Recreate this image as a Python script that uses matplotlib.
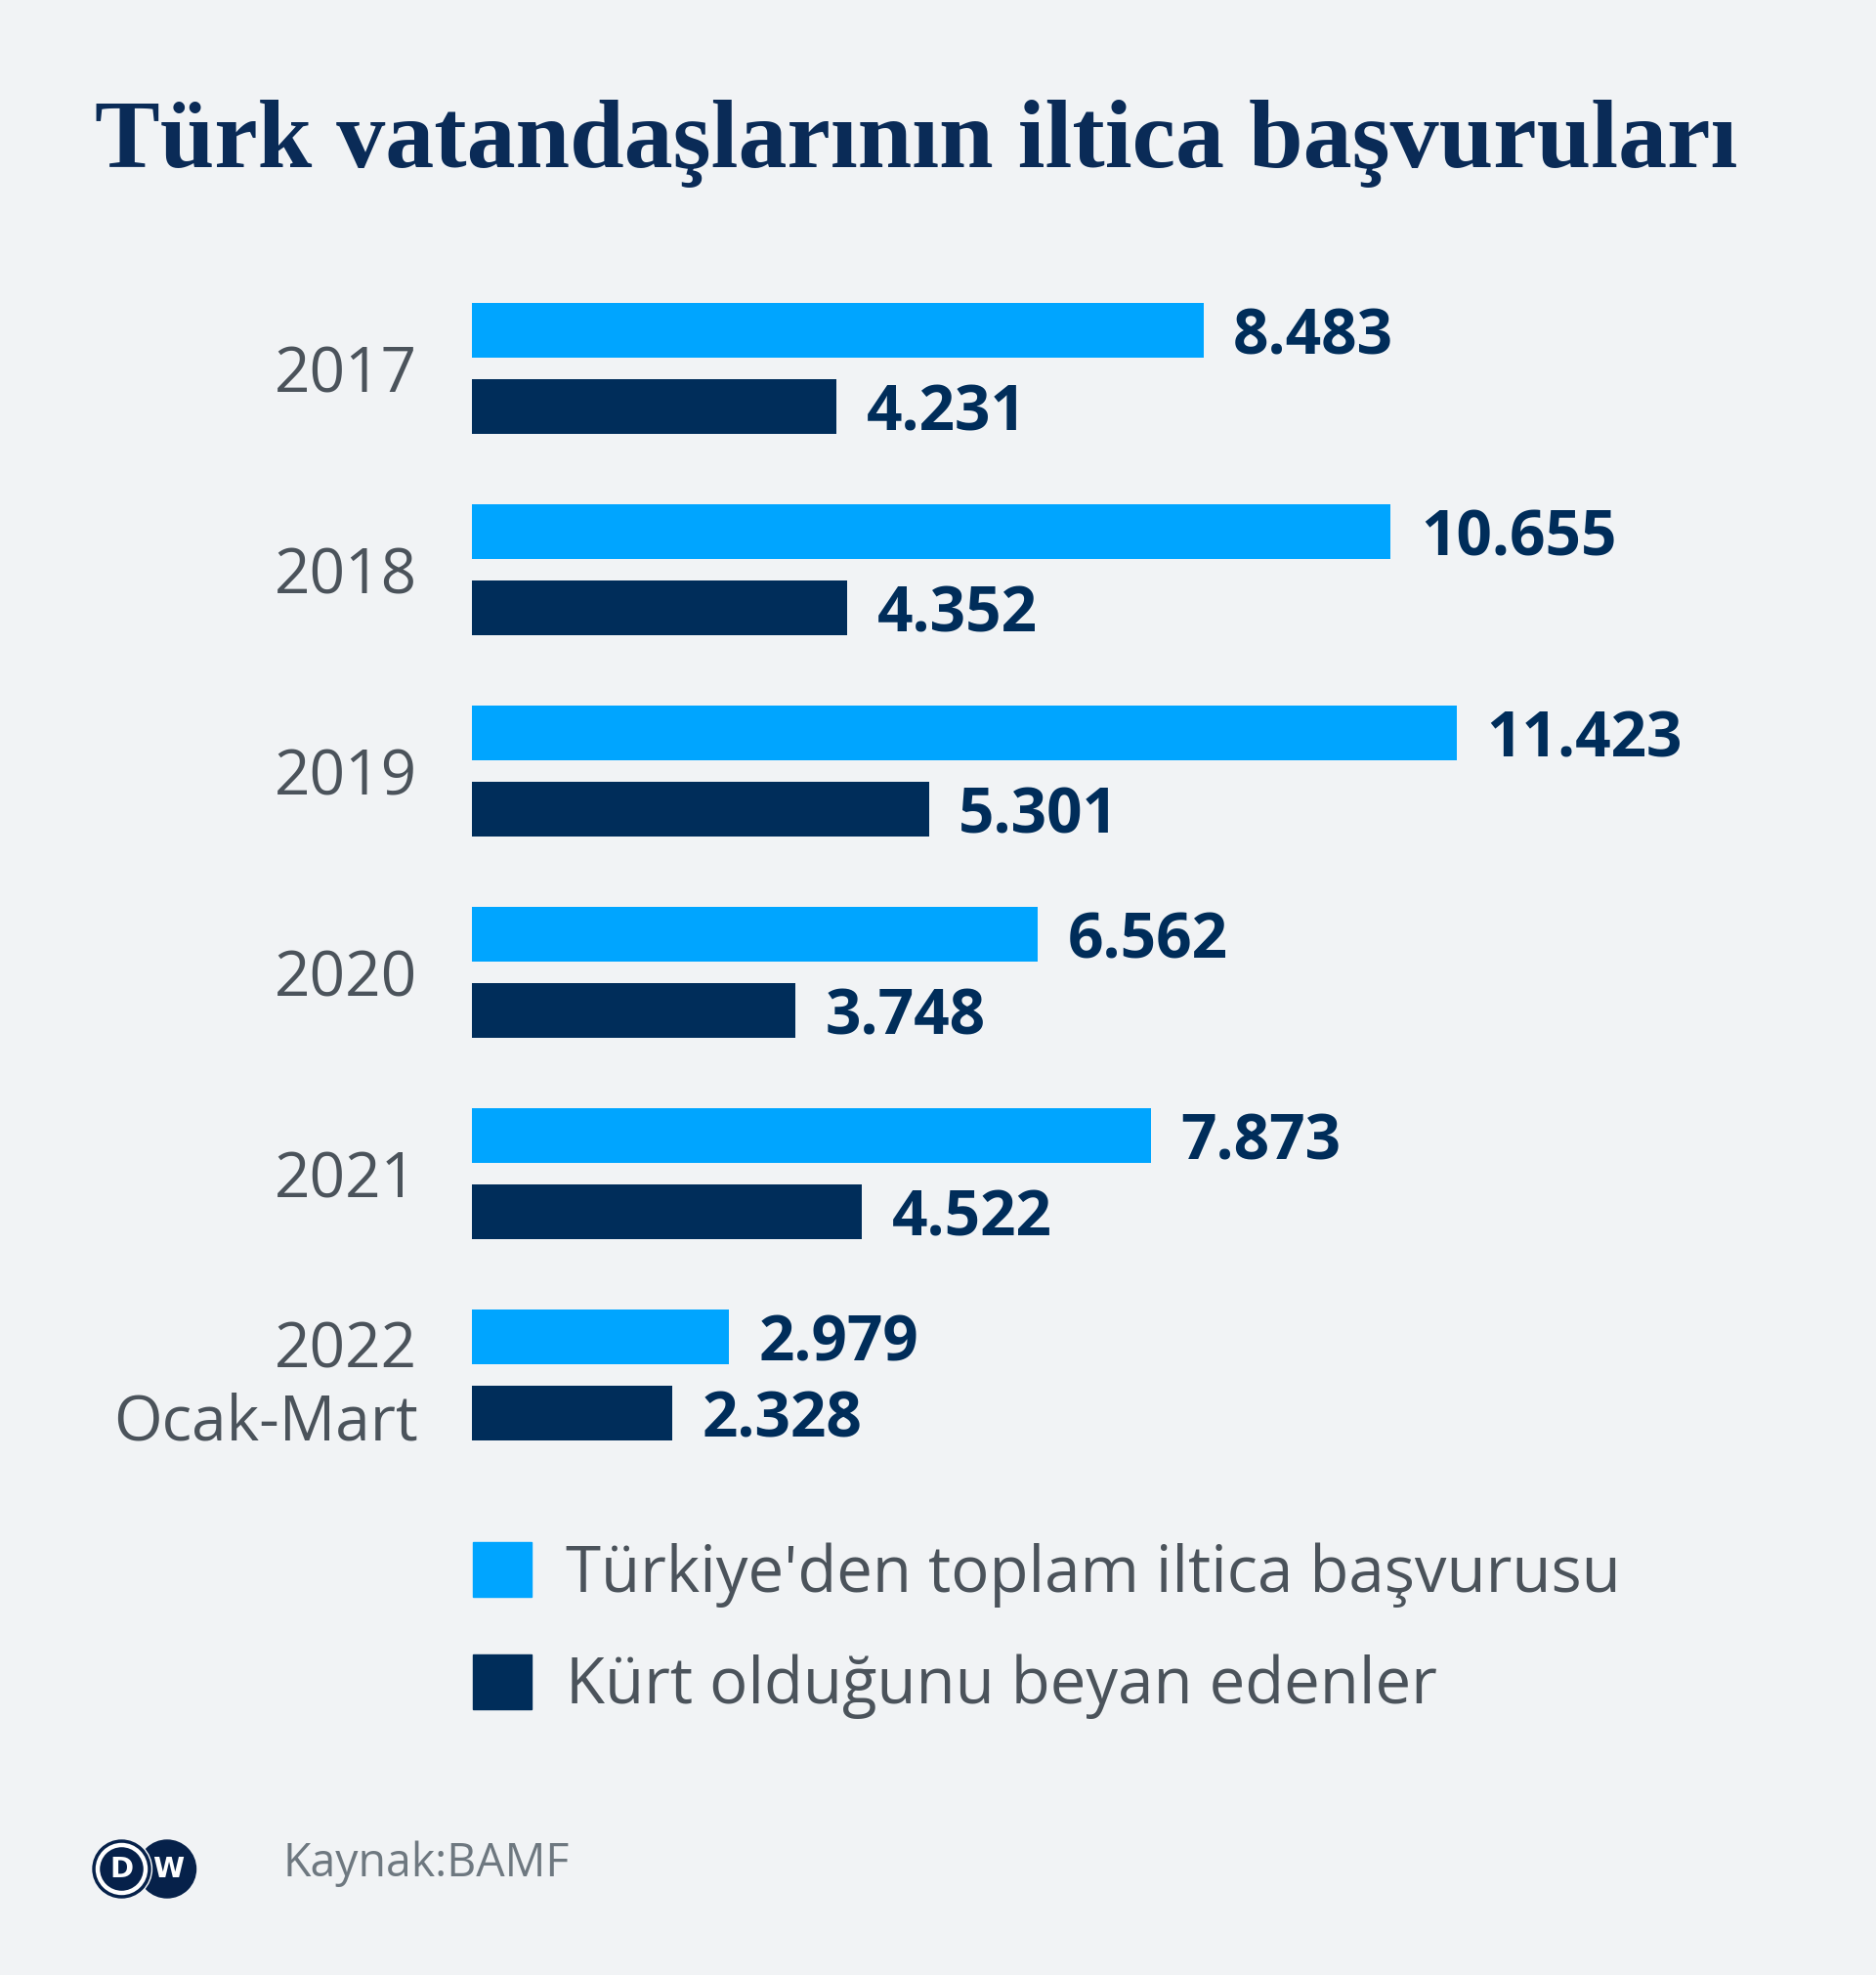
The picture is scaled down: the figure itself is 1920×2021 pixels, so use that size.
import numpy as np
import matplotlib
matplotlib.use("Agg")
import matplotlib.pyplot as plt
from matplotlib.patches import Circle, Patch

# ---------------- data ----------------
years = ["2017", "2018", "2019", "2020", "2021", "2022\nOcak-Mart"]
total = [8483, 10655, 11423, 6562, 7873, 2979]
kurdish = [4231, 4352, 5301, 3748, 4522, 2328]
total_labels = ["8.483", "10.655", "11.423", "6.562", "7.873", "2.979"]
kurdish_labels = ["4.231", "4.352", "5.301", "3.748", "4.522", "2.328"]
series_names = ["Türkiye'den toplam iltica başvurusu", "Kürt olduğunu beyan edenler"]
title = "Türk vatandaşlarının iltica başvuruları"
source = "Kaynak:BAMF"

# ---------------- style ----------------
W, H = 1920, 2021
BG = "#f1f3f5"
LIGHT = "#00a5ff"
NAVY = "#002d5a"
TITLE_C = "#0a2b57"
GRAY = "#4b535b"
SRC = "#6e7880"
FONT = "Open Sans"

fig = plt.figure(figsize=(W / 100, H / 100), dpi=100, facecolor=BG)


def fx(px):
    return px / W


def fy(py):
    return 1 - py / H


# main axes geometry (pixels)
px_per_unit = 1008 / 11423
xmax = 14000
ax_left = 483
ax_w = xmax * px_per_unit
ax_top, ax_bot = 274.3, 1510.3
ax = fig.add_axes([fx(ax_left), fy(ax_bot), ax_w / W, (ax_bot - ax_top) / H])
ax.set_facecolor("none")

pos = np.arange(len(years))
off = 0.189
bh = 0.272
ax.barh(pos - off, total, height=bh, color=LIGHT)
ax.barh(pos + off, kurdish, height=bh, color=NAVY)
for yy, v, lab in zip(pos - off, total, total_labels):
    ax.annotate(lab, xy=(v, yy), xytext=(22, 0), textcoords="offset points",
                fontsize=46, fontweight="bold", color=NAVY, family=FONT,
                ha="left", va="center_baseline")
for yy, v, lab in zip(pos + off, kurdish, kurdish_labels):
    ax.annotate(lab, xy=(v, yy), xytext=(22, 0), textcoords="offset points",
                fontsize=46, fontweight="bold", color=NAVY, family=FONT,
                ha="left", va="center_baseline")

ax.set_xlim(0, xmax)
ax.set_ylim(len(years) - 0.5, -0.5)
ax.set_yticks(pos)
ax.set_yticklabels(years, fontsize=46, color=GRAY, family=FONT)
ax.tick_params(axis="y", length=0, pad=40)
ax.set_xticks([])
for s in ax.spines.values():
    s.set_visible(False)

# title
fig.text(fx(97), fy(171), title, fontsize=72, fontweight="bold",
         family="Liberation Serif", color=TITLE_C, va="baseline", ha="left")

# legend
handles = [Patch(color=LIGHT), Patch(color=NAVY)]
fig.legend(handles, series_names, loc="upper left",
           bbox_to_anchor=(fx(484), fy(1578)), frameon=False,
           prop={"family": FONT, "size": 47}, labelcolor=GRAY,
           handlelength=0.92, handleheight=0.95, handletextpad=0.53,
           labelspacing=0.74, borderpad=0, borderaxespad=0)

# footer: logo + source
ov = fig.add_axes([0, 0, 1, 1])
ov.set_xlim(0, W)
ov.set_ylim(H, 0)
ov.axis("off")
ov.add_patch(Circle((171, 1912.5), 29.5, color="#06214a"))
ov.add_patch(Circle((124.5, 1912.5), 31, color=BG))
ov.add_patch(Circle((124.5, 1912.5), 29.5, color="#06214a"))
ov.add_patch(Circle((124.5, 1912.5), 24.5, fill=False, ec="white", lw=3.2))
ov.text(124, 1913, "D", color="white", fontsize=21, fontweight="heavy",
        family="DejaVu Sans", ha="center", va="center")
ov.text(172.5, 1913, "W", color="white", fontsize=21, fontweight="heavy",
        family="DejaVu Sans", ha="center", va="center")
fig.text(fx(290), fy(1907), source, fontsize=33.5, color=SRC, va="center",
         ha="left", family=FONT)

fig.savefig("out.png", dpi=100, facecolor=BG)
